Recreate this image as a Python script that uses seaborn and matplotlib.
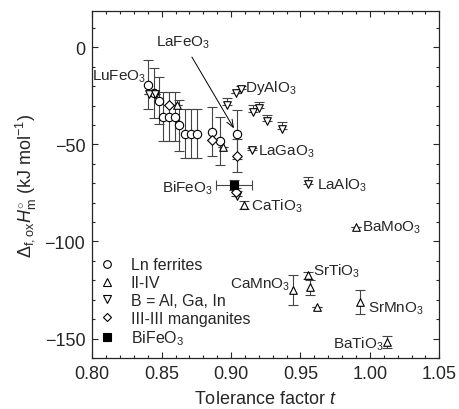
import numpy as np
import pandas as pd
import matplotlib
matplotlib.use("Agg")
import matplotlib.pyplot as plt
import seaborn as sns
from matplotlib.lines import Line2D
from matplotlib.ticker import MultipleLocator

# ---------------- data ----------------
# Ln ferrites (open circles)
ln_t = [0.8405, 0.8442, 0.8478, 0.8512, 0.8553, 0.8594, 0.8627, 0.8668, 0.8709, 0.8752, 0.8865, 0.8920, 0.9045]
ln_h = [-19.3, -23.5, -27.5, -35.8, -35.8, -35.8, -40.2, -44.5, -44.5, -44.5, -43.5, -48.3, -44.8]
ln_err = [12.5, 12.7, 12.0, 12.5, 12.5, 12.5, 13.0, 12.5, 12.5, 12.5, 12.5, 12.5, 12.5]

# II-IV (up triangles)
iv_t = [0.8608, 0.8944, 0.9095, 0.9448, 0.9556, 0.9568, 0.9617, 0.9900, 0.9929, 1.0121]
iv_h = [-29.6, -51.5, -81.3, -124.9, -117.5, -123.7, -134.0, -92.3, -131.1, -151.8]
iv_err = [0.0, 0.0, 2.0, 7.6, 2.0, 4.0, 0.0, 0.0, 6.3, 3.0]

# B = Al, Ga, In (down triangles), upward error bars
b_t = [0.8410, 0.8452, 0.8968, 0.9036, 0.9070, 0.9156, 0.9203, 0.9256, 0.9364, 0.9153, 0.9556, 0.9040]
b_h = [-24.3, -24.0, -29.7, -23.7, -21.5, -33.2, -31.4, -37.8, -42.1, -52.8, -70.5, -76.8]
b_err = [0.0, 0.0, 3.4, 0.0, 1.5, 3.5, 3.4, 3.0, 3.4, 1.0, 3.8, 3.0]

# III-III manganites (diamonds)
mn_t = [0.8553, 0.8865, 0.9045, 0.9036]
mn_h = [-29.6, -48.0, -55.9, -74.5]
mn_err = [0.0, 0.0, 8.5, 2.0]

# BiFeO3 (filled square)
bi_t = [0.9021]
bi_h = [-71.0]
bi_xerr = [0.0132]
bi_yerr = [2.5]

# text labels
lab_text = ["LuFeO$_3$", "DyAlO$_3$", "LaGaO$_3$", "LaAlO$_3$", "BaMoO$_3$", "CaTiO$_3$",
            "BiFeO$_3$", "SrTiO$_3$", "CaMnO$_3$", "SrMnO$_3$", "BaTiO$_3$"]
lab_t = [0.8391, 0.9102, 0.9196, 0.9617, 0.9945, 0.9143, 0.8871, 0.9588, 0.9425, 0.9989, 1.0097]
lab_h = [-14.5, -20.5, -53.3, -70.5, -92.3, -81.6, -72.2, -115.0, -122.0, -134.0, -152.5]
lab_ha = ["right", "left", "left", "left", "left", "left", "right", "left", "right", "left", "right"]

groups = ["Ln ferrites", "II-IV", "B = Al, Ga, In", "III-III manganites", "BiFeO$_3$"]

# ---------------- style ----------------
sns.set_style("ticks")
plt.rcParams["font.family"] = ["Liberation Sans", "DejaVu Sans"]
plt.rcParams["mathtext.fontset"] = "custom"
plt.rcParams["mathtext.rm"] = "Liberation Sans"
plt.rcParams["mathtext.it"] = "Liberation Sans:italic"
plt.rcParams["mathtext.bf"] = "Liberation Sans:bold"

fig = plt.figure(figsize=(4.59, 4.10), dpi=100)
ax = fig.add_axes([0.201, 0.1244, 0.756, 0.8456])

ecol = "#444444"
ekw = dict(fmt="none", ecolor=ecol, elinewidth=0.8, capsize=3.5, capthick=0.8, zorder=1)

# error bars
ax.errorbar(ln_t, ln_h, yerr=ln_err, **ekw)
ax.errorbar(iv_t, iv_h, yerr=iv_err, **ekw)
ax.errorbar(b_t, b_h, yerr=[np.zeros(len(b_err)), b_err], **ekw)
ax.errorbar(mn_t, mn_h, yerr=mn_err, **ekw)
ax.errorbar(bi_t, bi_h, xerr=bi_xerr, yerr=bi_yerr, **ekw)

df = pd.concat([
    pd.DataFrame({"t": ln_t, "H": ln_h, "g": groups[0]}),
    pd.DataFrame({"t": iv_t, "H": iv_h, "g": groups[1]}),
    pd.DataFrame({"t": b_t, "H": b_h, "g": groups[2]}),
    pd.DataFrame({"t": mn_t, "H": mn_h, "g": groups[3]}),
    pd.DataFrame({"t": bi_t, "H": bi_h, "g": groups[4]}),
])

markers = {groups[0]: "o", groups[1]: "^", groups[2]: "v", groups[3]: "D", groups[4]: "s"}
sizes = {groups[0]: 36, groups[1]: 30, groups[2]: 30, groups[3]: 24, groups[4]: 28}
for g in groups:
    sub = df[df.g == g]
    fc = "black" if g == groups[4] else "white"
    sns.scatterplot(data=sub, x="t", y="H", marker=markers[g], s=sizes[g],
                    facecolor=fc, edgecolor="black", linewidth=0.8, ax=ax,
                    zorder=3, legend=False)

# labels
for txt, x, y, ha in zip(lab_text, lab_t, lab_h, lab_ha):
    ax.text(x, y, txt, ha=ha, va="center", fontsize=11)

ax.annotate("LaFeO$_3$", xy=(0.9021, -41.8), xytext=(0.8654, 2.7),
            ha="center", va="center", fontsize=11,
            arrowprops=dict(arrowstyle="->,head_length=0.5,head_width=0.2", lw=0.7, color="black",
                            shrinkA=3, shrinkB=0))

# legend
handles = []
for g in groups:
    fc = "black" if g == groups[4] else "white"
    handles.append(Line2D([], [], ls="none", marker=markers[g], markersize=5.5 if g != groups[3] else 4.5,
                          markerfacecolor=fc, markeredgecolor="black", markeredgewidth=0.8))
ax.legend(handles, groups, loc="lower left", frameon=False, fontsize=11.5,
          handlelength=1.0, handletextpad=1.0, labelspacing=0.18,
          borderaxespad=0.0, bbox_to_anchor=(0.0, 0.012))

ax.set_xlim(0.80, 1.05)
ax.set_ylim(-160, 18.5)
ax.xaxis.set_major_locator(MultipleLocator(0.05))
ax.xaxis.set_minor_locator(MultipleLocator(0.01))
ax.yaxis.set_major_locator(MultipleLocator(50))
ax.yaxis.set_minor_locator(MultipleLocator(10))
ax.xaxis.set_major_formatter(matplotlib.ticker.FormatStrFormatter("%.2f"))
ax.tick_params(which="both", direction="in", top=True, right=True, labelsize=13, width=0.8)
ax.tick_params(which="major", length=4.5, pad=5)
ax.tick_params(which="minor", length=2.5)
for sp in ax.spines.values():
    sp.set_linewidth(0.9)

ax.set_xlabel("Tolerance factor $t$", fontsize=13, labelpad=6)
ax.set_ylabel(r"$\Delta_{\mathrm{f,ox}}H^{\circ}_{\mathrm{m}}$ (kJ mol$^{-1}$)", fontsize=13, labelpad=5)

fig.savefig("out.png", dpi=100)
